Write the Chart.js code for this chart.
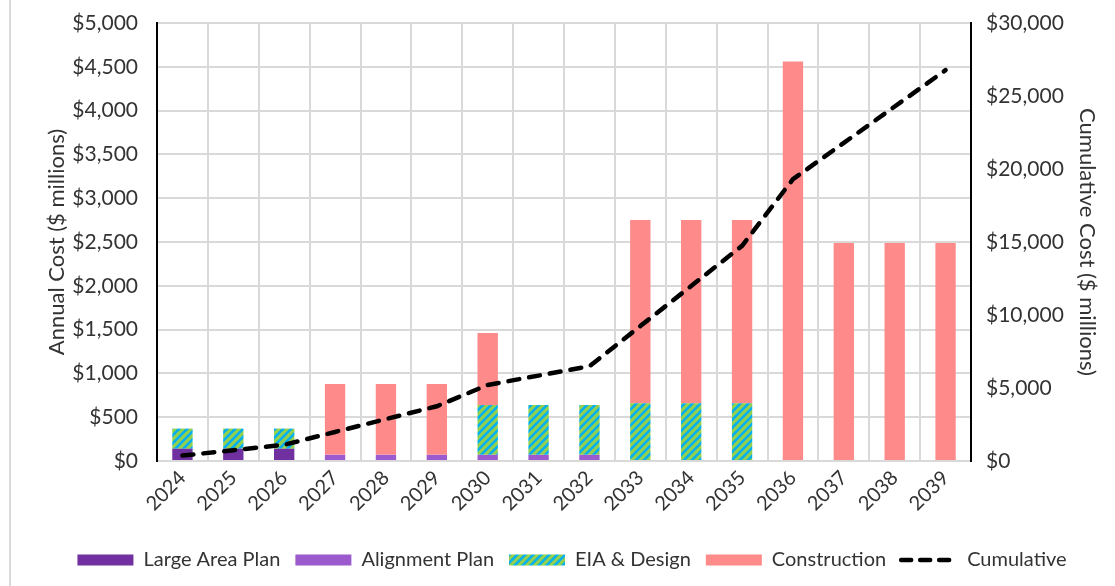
<!DOCTYPE html>
<html>
<head>
<meta charset="utf-8">
<script src="https://cdn.jsdelivr.net/npm/chart.js@4.4.1/dist/chart.umd.min.js"></script>
<style>
  html, body { margin: 0; padding: 0; background: #fff; }
  #wrap { position: relative; width: 1115px; height: 586px; }
  #edge { position: absolute; left: 9px; top: 0; width: 2px; height: 586px; background: #dadada; }
</style>
</head>
<body>
<div id="wrap">
  <div id="edge"></div>
  <canvas id="costChart" width="1115" height="586"></canvas>
</div>
<script>
var years = ['2024', '2025', '2026', '2027', '2028', '2029', '2030', '2031',
             '2032', '2033', '2034', '2035', '2036', '2037', '2038', '2039'];

// annual cost by phase, $ millions
var largeAreaPlan = [140, 140, 140, 0, 0, 0, 0, 0, 0, 0, 0, 0, 0, 0, 0, 0];
var alignmentPlan = [0, 0, 0, 70, 70, 70, 70, 70, 70, 0, 0, 0, 0, 0, 0, 0];
var eiaDesign     = [230, 230, 230, 0, 0, 0, 570, 570, 570, 660, 660, 660, 0, 0, 0, 0];
var construction  = [0, 0, 0, 810, 810, 810, 820, 0, 0, 2090, 2090, 2090, 4560, 2490, 2490, 2490];

// running total, $ millions
var cumulative = [370, 740, 1110, 1990, 2870, 3750, 5210, 5850,
                  6490, 9240, 11990, 14740, 19300, 21790, 24280, 26770];

var leftTicks = [0, 5000, 500];
var rightTicks = [0, 30000, 5000];

function money(v) {
    return '$' + Number(v).toLocaleString('en-US');
}

// green fill with blue diagonal stripes
function stripePattern() {
    var c = document.createElement('canvas');
    c.width = 8;
    c.height = 8;
    var g = c.getContext('2d');
    g.fillStyle = '#92D050';
    g.fillRect(0, 0, 8, 8);
    g.strokeStyle = '#00B0F0';
    g.lineWidth = 2.6;
    g.beginPath();
    g.moveTo(-2, 10); g.lineTo(10, -2);
    g.moveTo(-6, 6); g.lineTo(6, -6);
    g.moveTo(2, 14); g.lineTo(14, 2);
    g.stroke();
    return g.createPattern(c, 'repeat');
}

// fixed axis width, and no extra top/bottom padding from the tick labels
function fixWidth(w) {
    return function(scale) {
        scale.width = w;
        scale.paddingTop = 0;
        scale.paddingBottom = 0;
    };
}

var font = 'Lato, "Open Sans", sans-serif';
var textColor = '#333333';
var gridColor = '#d9d9d9';

var ctx = document.getElementById('costChart').getContext('2d');
var hatch = stripePattern();

var chart = new Chart(ctx, {
    type: 'bar',
    data: {
        labels: years,
        datasets: [{
            label: 'Large Area Plan',
            data: largeAreaPlan,
            backgroundColor: '#7030A0',
            yAxisID: 'y',
            order: 1
        }, {
            label: 'Alignment Plan',
            data: alignmentPlan,
            backgroundColor: '#9B5BCF',
            yAxisID: 'y',
            order: 1
        }, {
            label: 'EIA & Design',
            data: eiaDesign,
            backgroundColor: hatch,
            yAxisID: 'y',
            order: 1
        }, {
            label: 'Construction',
            data: construction,
            backgroundColor: '#FF8A8A',
            yAxisID: 'y',
            order: 1
        }, {
            type: 'line',
            label: 'Cumulative',
            data: cumulative,
            yAxisID: 'y1',
            borderColor: '#000000',
            backgroundColor: '#000000',
            borderWidth: 4.5,
            borderDash: [11, 10],
            borderCapStyle: 'round',
            pointRadius: 0,
            tension: 0,
            fill: false,
            order: 0
        }]
    },
    options: {
        responsive: false,
        animation: false,
        datasets: {
            bar: {
                barPercentage: 0.4,
                categoryPercentage: 1.0,
                borderWidth: 0
            }
        },
        layout: {
            padding: { left: 42, right: 13, top: 23, bottom: 6 }
        },
        plugins: {
            tooltip: { enabled: false },
            legend: {
                position: 'bottom',
                labels: {
                    font: { family: font, size: 20 },
                    color: textColor,
                    usePointStyle: true,
                    pointStyleWidth: 56,
                    boxHeight: 11,
                    padding: 15,
                    sort: function(a, b) { return a.datasetIndex - b.datasetIndex; },
                    generateLabels: function(chart) {
                        return chart.data.datasets.map(function(ds, i) {
                            var isLine = ds.type === 'line';
                            return {
                                text: ds.label,
                                datasetIndex: i,
                                fillStyle: ds.backgroundColor,
                                strokeStyle: isLine ? '#000' : ds.backgroundColor,
                                lineWidth: isLine ? 4.5 : 0,
                                lineDash: isLine ? [10, 9] : [],
                                lineCap: isLine ? 'round' : 'butt',
                                pointStyle: isLine ? 'line' : 'rect',
                                fontColor: textColor,
                                hidden: false
                            };
                        });
                    }
                }
            }
        },
        scales: {
            x: {
                stacked: true,
                afterFit: function(scale) { scale.height = 74; },
                grid: {
                    color: gridColor,
                    lineWidth: 2,
                    offset: true,
                    drawTicks: false
                },
                border: { color: gridColor, width: 2 },
                ticks: {
                    font: { family: font, size: 20 },
                    color: textColor,
                    minRotation: 45,
                    maxRotation: 45,
                    padding: 5
                }
            },
            y: {
                stacked: true,
                position: 'left',
                min: leftTicks[0],
                max: leftTicks[1],
                afterFit: fixWidth(115),
                grid: { color: gridColor, lineWidth: 2, drawTicks: false },
                border: { color: '#000000', width: 2 },
                ticks: {
                    stepSize: leftTicks[2],
                    font: { family: font, size: 21 },
                    color: textColor,
                    padding: 19,
                    callback: money
                },
                title: {
                    display: true,
                    text: 'Annual Cost ($ millions)',
                    font: { family: font, size: 22 },
                    color: textColor,
                    padding: { top: 2, bottom: 0 }
                }
            },
            y1: {
                position: 'right',
                min: rightTicks[0],
                max: rightTicks[1],
                afterFit: fixWidth(131),
                grid: { display: false, drawTicks: false },
                border: { color: '#000000', width: 2 },
                ticks: {
                    stepSize: rightTicks[2],
                    font: { family: font, size: 21 },
                    color: textColor,
                    padding: 15,
                    callback: money
                },
                title: {
                    display: true,
                    text: 'Cumulative Cost ($ millions)',
                    font: { family: font, size: 22 },
                    color: textColor,
                    padding: { top: 2, bottom: 0 }
                }
            }
        }
    }
});
</script>
</body>
</html>
